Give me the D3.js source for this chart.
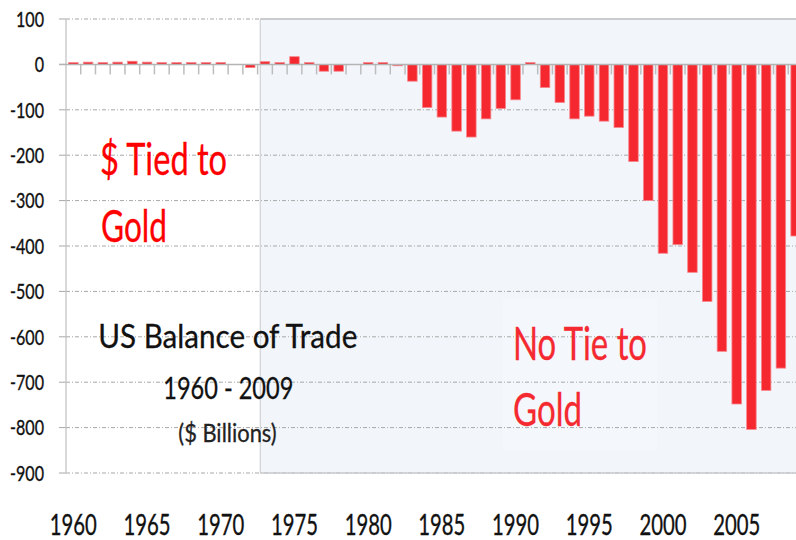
<!DOCTYPE html>
<html>
<head>
<meta charset="utf-8">
<script src="https://cdn.jsdelivr.net/npm/d3@7"></script>
<style>
  body { margin: 0; background: #fff; }
  svg { display: block; }
</style>
</head>
<body>
<div id="chart"></div>
<script>
// US balance of trade, $ billions
const years = [1960, 1961, 1962, 1963, 1964, 1965, 1966, 1967, 1968, 1969,
    1970, 1971, 1972, 1973, 1974, 1975, 1976, 1977, 1978, 1979,
    1980, 1981, 1982, 1983, 1984, 1985, 1986, 1987, 1988, 1989,
    1990, 1991, 1992, 1993, 1994, 1995, 1996, 1997, 1998, 1999,
    2000, 2001, 2002, 2003, 2004, 2005, 2006, 2007, 2008, 2009];
const balance = [4, 5, 4, 5, 7, 5, 4, 4, 4, 4,
    4, 0, -7, 6, 4, 17, 4, -15, -15, 0,
    4, 4, -3, -37, -95, -116, -147, -160, -120, -97,
    -78, 4, -51, -84, -120, -114, -125, -139, -214, -300,
    -416, -397, -458, -522, -632, -748, -804, -718, -669, -378];
const yTicks = [100, 0, -100, -200, -300, -400, -500, -600, -700, -800, -900];
const xLabels = [1960, 1965, 1970, 1975, 1980, 1985, 1990, 1995, 2000, 2005];

document.fonts.ready.then(render);

function render() {
    const width = 796, height = 540;
    const left = 66, top = 19, bottom = 473, step = 14.74;
    const font = 'Lato';

    const svg = d3.select('#chart').append('svg')
        .attr('width', width)
        .attr('height', height);

    const x = d3.scaleBand()
        .domain(years)
        .range([left, left + years.length * step])
        .paddingInner(0.355)
        .paddingOuter(0.1775);

    const y = d3.scaleLinear()
        .domain([-900, 100])
        .range([bottom, top]);

    const right = left + years.length * step;
    const shadeX = x(1973);

    // shaded "no tie" area
    svg.append('rect')
        .attr('x', shadeX).attr('y', top)
        .attr('width', right - shadeX).attr('height', bottom - top)
        .attr('fill', '#f2f6fb');
    // faint box behind the right-hand note
    svg.append('rect')
        .attr('x', 503).attr('y', 298)
        .attr('width', 154).attr('height', 152)
        .attr('fill', '#f4f7fc');

    // grid lines
    svg.append('g').selectAll('line')
        .data(yTicks.filter(d => d !== 0))
        .enter().append('line')
        .attr('x1', left).attr('x2', right)
        .attr('y1', d => y(d)).attr('y2', d => y(d))
        .attr('stroke', '#a8a8a8')
        .attr('stroke-width', 1)
        .attr('stroke-dasharray', '4,2,1,2');

    // left tick marks
    svg.append('g').selectAll('line')
        .data(yTicks)
        .enter().append('line')
        .attr('x1', left - 7).attr('x2', left)
        .attr('y1', d => y(d)).attr('y2', d => y(d))
        .attr('stroke', '#a8a8a8');

    // border of shaded area
    const border = svg.append('g')
        .attr('stroke', '#c9cbce')
        .attr('fill', 'none');
    border.append('line')
        .attr('x1', shadeX).attr('x2', right)
        .attr('y1', top).attr('y2', top)
        .attr('stroke-width', 2);
    border.append('line')
        .attr('x1', shadeX).attr('x2', right)
        .attr('y1', bottom).attr('y2', bottom)
        .attr('stroke-width', 1.5);
    border.append('line')
        .attr('x1', shadeX).attr('x2', shadeX)
        .attr('y1', top).attr('y2', bottom);

    // y axis line
    svg.append('line')
        .attr('x1', left).attr('x2', left)
        .attr('y1', top).attr('y2', bottom)
        .attr('stroke', '#bfbfbf')
        .attr('stroke-width', 1.2);

    // bars
    svg.append('g').selectAll('rect')
        .data(years.map((yr, i) => ({year: yr, value: balance[i]})))
        .enter().append('rect')
        .attr('x', d => x(d.year))
        .attr('width', x.bandwidth())
        .attr('y', d => y(Math.max(0, d.value)))
        .attr('height', d => Math.abs(y(d.value) - y(0)))
        .attr('fill', '#f5282f')
        .attr('stroke', '#f7868c')
        .attr('stroke-width', 0.8);

    // zero line and category ticks
    const halfGap = x.step() * x.paddingInner() / 2;
    svg.append('g').selectAll('line')
        .data(years.slice(1))
        .enter().append('line')
        .attr('x1', d => x(d) - halfGap).attr('x2', d => x(d) - halfGap)
        .attr('y1', y(0)).attr('y2', y(0) + 10)
        .attr('stroke', '#bdbdbd')
        .attr('stroke-width', 1.5);
    svg.append('line')
        .attr('x1', left - 7).attr('x2', right)
        .attr('y1', y(0)).attr('y2', y(0))
        .attr('stroke', '#b4b4b4')
        .attr('stroke-width', 1.5);

    // y tick labels, squeezed like the narrow original face
    const yLab = svg.append('g');
    const probe = yLab.append('text')
        .style('font-family', font).style('font-size', '21.5px').text('100');
    const yRatio = 28 / probe.node().getComputedTextLength();
    probe.remove();
    yTicks.forEach(t => {
        const txt = yLab.append('text')
            .style('font-family', font).style('font-size', '21.5px')
            .attr('fill', '#111')
            .attr('stroke', '#111').attr('stroke-width', 0.35)
            .text(t);
        const w = txt.node().getComputedTextLength() * yRatio;
        txt.attr('x', 44 - w).attr('y', y(t) + 7.7)
            .attr('textLength', w)
            .attr('lengthAdjust', 'spacingAndGlyphs');
    });

    // x labels
    svg.append('g').selectAll('text')
        .data(xLabels)
        .enter().append('text')
        .attr('x', d => x(d) + x.bandwidth() / 2 - 23.5)
        .attr('y', 535)
        .attr('textLength', 47)
        .attr('lengthAdjust', 'spacingAndGlyphs')
        .style('font-family', font)
        .style('font-size', '28.5px')
        .attr('fill', '#111')
        .attr('stroke', '#111').attr('stroke-width', 0.35)
        .text(d => d);

    // notes
    const notes = [
        {text: '$ Tied to', x: 100, y: 175, size: 44, w: 127, color: '#fe0000'},
        {text: 'Gold', x: 101, y: 241.7, size: 44, w: 66, color: '#fe0000'},
        {text: 'US Balance of Trade', x: 98.3, y: 348.3, size: 33, w: 259, color: '#111'},
        {text: '1960 - 2009', x: 163.3, y: 399, size: 30, w: 130, color: '#111'},
        {text: '($ Billions)', x: 178.3, y: 441.7, size: 24.5, w: 98.4, color: '#222'},
        {text: 'No Tie to', x: 513, y: 360, size: 46.5, w: 134, color: '#f42a30'},
        {text: 'Gold', x: 513, y: 426, size: 46.5, w: 69, color: '#f42a30'}
    ];
    svg.append('g').selectAll('text')
        .data(notes)
        .enter().append('text')
        .attr('x', d => d.x)
        .attr('y', d => d.y)
        .attr('textLength', d => d.w)
        .attr('lengthAdjust', 'spacingAndGlyphs')
        .style('font-family', font)
        .style('font-size', d => d.size + 'px')
        .attr('fill', d => d.color)
        .attr('stroke', d => d.color)
        .attr('stroke-width', 0.3)
        .text(d => d.text);
}
</script>
</body>
</html>
